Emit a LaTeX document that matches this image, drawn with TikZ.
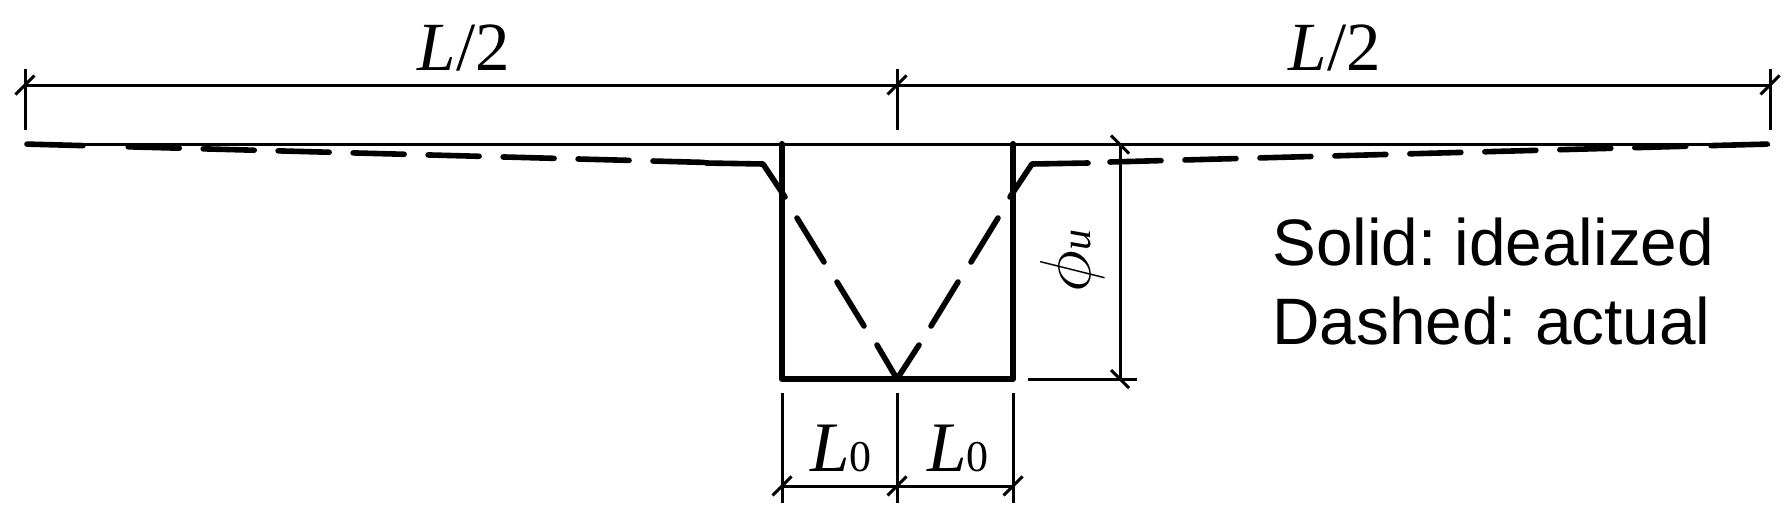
\documentclass[tikz,border=0pt]{standalone}
\usepackage{fontspec}
\setmainfont{Liberation Serif}
\newfontfamily\labelsans{Liberation Sans}
\usetikzlibrary{calc}
\tikzset{
  thinline/.style={line width=3pt,black},
  tickmark/.style={line width=3pt,black},
  heavy/.style={line width=6.2pt,black,line cap=round,line join=round},
  dashstroke/.style={line width=5.6pt,black,line cap=round,line join=round},
  dashrun/.style={dashstroke,dash pattern=on 51pt off 24pt},
  dimtext/.style={inner sep=0pt,anchor=base,font=\fontsize{69}{72}\selectfont},
  subtext/.style={inner sep=0pt,anchor=base,font=\fontsize{71}{74}\selectfont},
  note/.style={inner sep=0pt,anchor=base west,font=\labelsans\fontsize{65.7}{70}\selectfont\frenchspacing}
}
\newcommand{\slashtick}[1]{\draw[tickmark] ($(#1)+(-9.5,9.5)$) -- ($(#1)+(9.5,-9.5)$);}
\newcommand{\backtick}[1]{\draw[tickmark] ($(#1)+(-9,-9)$) -- ($(#1)+(9,9)$);}
\newcommand{\smallzero}{{\fontsize{44}{46}\selectfont 0}}
\begin{document}
\begin{tikzpicture}[x=1pt,y=-1pt]
\useasboundingbox (0,0) rectangle (1787,523);
% reference points
\coordinate (dl) at (25,85);   \coordinate (dm) at (897,85);   \coordinate (dr) at (1770,85);
\coordinate (dlb) at (25,130); \coordinate (dmb) at (897,130); \coordinate (drb) at (1770,130);
\coordinate (dlt) at (25,69);  \coordinate (dmt) at (897,69);  \coordinate (drt) at (1770,69);
\coordinate (tl) at (25,144.5); \coordinate (tr) at (1770,144.5);
\coordinate (bt) at (782,144); \coordinate (bb) at (782,379);
\coordinate (ct) at (1013,144); \coordinate (cb) at (1013,379);
\coordinate (vm) at (897,379);
\coordinate (pt) at (1120,144.5); \coordinate (pb) at (1120,379);
\coordinate (pe1) at (1028,379); \coordinate (pe2) at (1137,379);
\coordinate (l1) at (782,486); \coordinate (l2) at (897,486); \coordinate (l3) at (1013,486);
\coordinate (l1t) at (782,393); \coordinate (l2t) at (897,393); \coordinate (l3t) at (1013,393);
\coordinate (l1b) at (782,503); \coordinate (l2b) at (897,503); \coordinate (l3b) at (1013,503);
% dimension L/2
\draw[thinline] (dl) -- (dr);
\draw[thinline] (dlt) -- (dlb);
\draw[thinline] (dmt) -- (dmb);
\draw[thinline] (drt) -- (drb);
\slashtick{dl} \slashtick{dm} \slashtick{dr}
% idealized top line and box
\draw[thinline] (tl) -- (tr);
\draw[heavy] (bt) -- (bb) -- (cb) -- (ct);
% actual, dashed: left half
\draw[dashstroke] (27,144.1) -- (83,145.6);
\draw[dashrun] (704,162.4) -- (106,146.2);
\draw[dashstroke] (785,197) -- (763,164) -- (706,163);
\draw[dashstroke] (797,218) -- (824,262);
\draw[dashstroke] (837,282) -- (864,326);
\draw[dashstroke] (877,345) -- (vm);
% actual, dashed: right half
\draw[dashstroke] (vm) -- (919,345);
\draw[dashstroke] (931,326) -- (958,282);
\draw[dashstroke] (971,262) -- (998,218);
\draw[dashstroke] (1010,197) -- (1032,164) -- (1088,163);
\draw[dashrun] (1110,162) -- (1688,146.2);
\draw[dashstroke] (1711,145.6) -- (1767,144.1);
% dimension phi_u
\draw[thinline] (pt) -- (pb);
\draw[thinline] (pe1) -- (pe2);
\backtick{pt} \backtick{pb}
% dimension L0
\draw[thinline] (l1) -- (l3);
\draw[thinline] (l1t) -- (l1b);
\draw[thinline] (l2t) -- (l2b);
\draw[thinline] (l3t) -- (l3b);
\slashtick{l1} \slashtick{l2} \slashtick{l3}
% texts
\node[dimtext] (halfa) at (464,70) {\textit{L}/2};
\node[dimtext] (halfb) at (1335,70) {\textit{L}/2};
\node[subtext] (lza) at (841,471) {\textit{L}\smallzero};
\node[subtext] (lzb) at (958,471) {\textit{L}\smallzero};
\node[inner sep=0pt,anchor=base,rotate=90,font=\fontsize{42}{46}\selectfont] (phi) at (1090,261) {\scalebox{2.9}{$\phi$}\textit{u}};
\node[note] (solid) at (1272,265) {Solid: idealized};
\node[note] (dashed) at (1272,344) {Dashed: actual};
\end{tikzpicture}
\end{document}
